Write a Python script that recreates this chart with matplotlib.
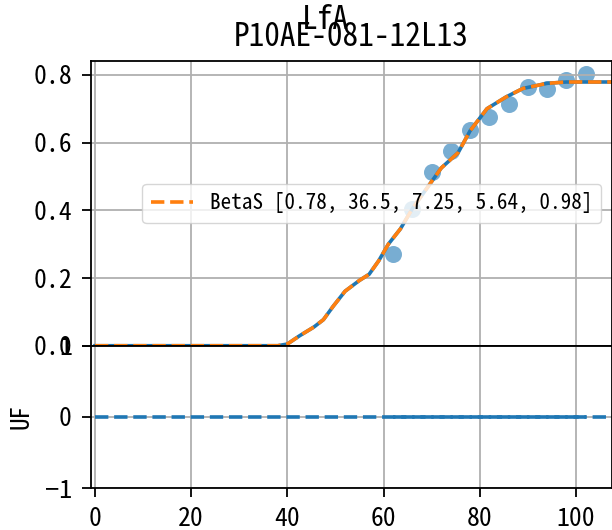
import matplotlib
matplotlib.use("Agg")
from matplotlib import pyplot as plt

plt.rcParams["font.family"] = ["Noto Sans Mono CJK SC", "Noto Sans CJK SC", "DejaVu Sans"]

# measured points (top panel)
scatter_x = [62, 66, 70, 74, 78, 82, 86, 90, 94, 98, 102]
scatter_y = [0.27, 0.404, 0.514, 0.575, 0.637, 0.677, 0.713, 0.764, 0.758, 0.785, 0.803]

# fitted BetaS curve
curve_x = [0, 38, 40, 42.5, 45.5, 47.5, 49.5, 52, 55, 57, 59, 61, 63.5, 66,
           69.5, 72, 75.5, 78, 81.5, 85.5, 89, 94, 98, 108]
curve_y = [0, 0, 0.005, 0.029, 0.055, 0.077, 0.116, 0.161, 0.193, 0.211, 0.251,
           0.30, 0.345, 0.405, 0.475, 0.525, 0.57, 0.635, 0.70, 0.735, 0.76,
           0.775, 0.779, 0.779]
fit_label = "BetaS [0.78, 36.5, 7.25, 5.64, 0.98]"

# UF panel
uf_curve = [0.0] * len(curve_x)
uf_points = [0.0] * len(scatter_x)

top_yticks = [0.0, 0.2, 0.4, 0.6, 0.8]
bottom_yticks = [-1, 0, 1]
xticks = [0, 20, 40, 60, 80, 100]

fig = plt.figure(figsize=(6.12, 5.30), dpi=100)
ax1 = fig.add_axes([0.1482, 0.3477, 0.8518, 0.5372])
ax2 = fig.add_axes([0.1482, 0.0787, 0.8518, 0.2691], sharex=ax1)

lw = 2.6
ax1.scatter(scatter_x, scatter_y, s=150, color="C0", alpha=0.6, linewidths=0)
ax1.plot(curve_x, curve_y, color="C0", lw=lw)
ax1.plot(curve_x, curve_y, "--", color="C1", lw=lw, label=fit_label)
ax1.set_ylim(0, 0.841)
ax1.set_yticks(top_yticks)
ax1.set_xlim(-0.89, 107.5)
ax1.grid(True, lw=1.3)
ax1.tick_params(axis="x", bottom=False, labelbottom=False)
ax1.legend(loc="center right", fontsize=15.3)
ax1.set_title("P10AE-081-12L13", fontsize=22.5, pad=11)
fig.text(0.531, 0.9458, "LfA", ha="center", va="baseline", fontsize=22.5)

ax2.plot(curve_x, uf_curve, "--", color="C0", lw=lw)
ax2.plot(scatter_x, uf_points, "--", color="C0", lw=lw)
ax2.set_ylim(-1, 1)
ax2.set_yticks(bottom_yticks)
ax2.set_xticks(xticks)
ax2.grid(True, lw=1.3)
ax2.set_ylabel("UF", fontsize=18)
ax2.yaxis.set_label_coords(-0.109, 0.5)

for ax in (ax1, ax2):
    ax.tick_params(labelsize=18.5, length=6.5, width=1.3, pad=7)
    for sp in ax.spines.values():
        sp.set_linewidth(1.3)

fig.savefig("out.png", dpi=100)
